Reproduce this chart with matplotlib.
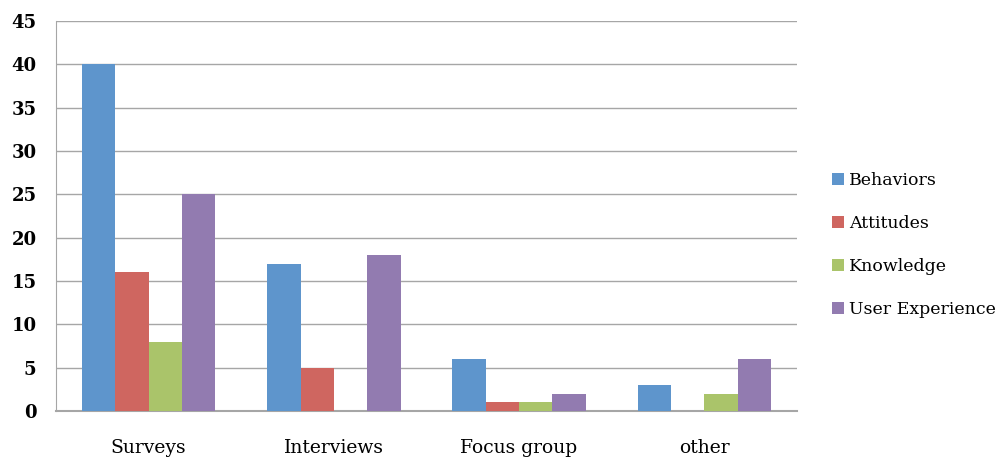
import matplotlib
matplotlib.use("Agg")
import matplotlib.pyplot as plt
import numpy as np

categories = ["Surveys", "Interviews", "Focus group", "other"]
series_names = ["Behaviors", "Attitudes", "Knowledge", "User Experience"]
behaviors = [40, 17, 6, 3]
attitudes = [16, 5, 1, 0]
knowledge = [8, 0, 1, 2]
user_experience = [25, 18, 2, 6]
colors = ["#5E95CC", "#CF6660", "#AAC46A", "#927BB0"]

plt.rcParams['font.family'] = ['DejaVu Serif']

fig = plt.figure(figsize=(10.08, 4.66), dpi=100)
ax = fig.add_axes([56/1008, 1 - 411/466, (797-56)/1008, (411-21)/466])

x = np.arange(len(categories))
w = 0.18
data = [behaviors, attitudes, knowledge, user_experience]
for i, (vals, name, c) in enumerate(zip(data, series_names, colors)):
    ax.bar(x + (i - 1.5) * w, vals, w, color=c, label=name, zorder=3)

ax.set_xlim(-0.5, len(categories) - 0.5)
ax.set_ylim(0, 45)
ax.set_yticks(range(0, 46, 5))
ax.yaxis.grid(True, color="#A6A6A6", linewidth=1.0, zorder=0)
ax.set_axisbelow(True)
for s in ["top", "right"]:
    ax.spines[s].set_visible(False)
ax.spines["left"].set_color("#A6A6A6")
ax.spines["bottom"].set_color("#A6A6A6")
ax.spines["bottom"].set_linewidth(1.5)
ax.set_xticks(x)
ax.set_xticklabels(categories, fontsize=13.5)
ax.tick_params(axis="x", length=0, pad=20)
ax.tick_params(axis="y", length=0, pad=14, labelsize=13)
for t in ax.get_yticklabels():
    t.set_fontweight("bold")

leg = ax.legend(loc="center left", bbox_to_anchor=(1.026, 0.426), frameon=False,
                fontsize=12.5, handlelength=0.7, handleheight=0.7, handletextpad=0.3,
                labelspacing=1.5)

fig.savefig("out.png", dpi=100)
